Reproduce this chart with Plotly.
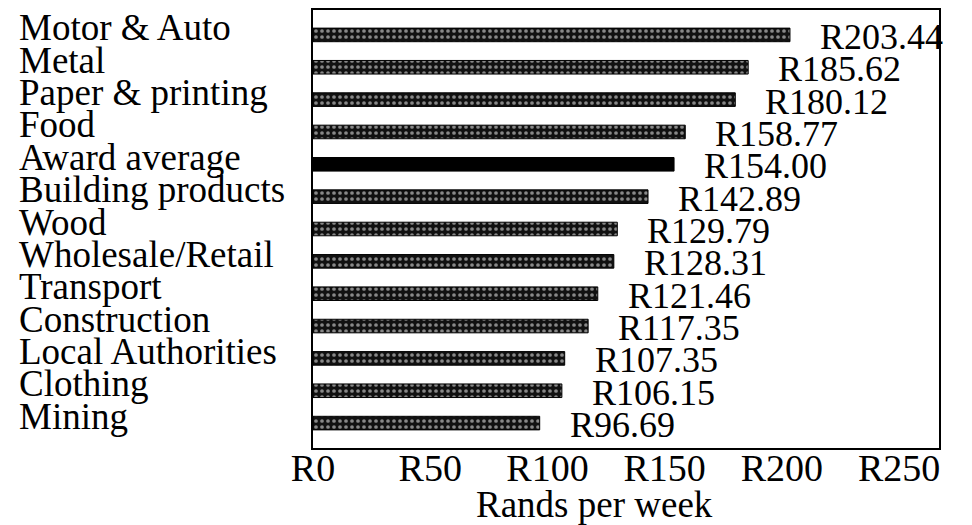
import plotly.graph_objects as go

categories = ["Motor & Auto", "Metal", "Paper & printing", "Food", "Award average",
              "Building products", "Wood", "Wholesale/Retail", "Transport",
              "Construction", "Local Authorities", "Clothing", "Mining"]
values = [203.44, 185.62, 180.12, 158.77, 154.00, 142.89, 129.79, 128.31,
          121.46, 117.35, 107.35, 106.15, 96.69]
value_labels = ["R203.44", "R185.62", "R180.12", "R158.77", "R154.00", "R142.89",
                "R129.79", "R128.31", "R121.46", "R117.35", "R107.35", "R106.15", "R96.69"]
highlight = "Award average"
tick_values = [0, 50, 100, 150, 200, 250]
tick_labels = ["R0", "R50", "R100", "R150", "R200", "R250"]
x_title = "Rands per week"

FONT = "Liberation Serif, Times New Roman, serif"

fig = go.Figure()
shapes = ["" if c == highlight else "." for c in categories]
fig.add_trace(go.Bar(
    y=categories, x=values, orientation="h", width=0.42,
    marker=dict(
        color=["black" if c == highlight else "#111111" for c in categories],
        line=dict(color="black", width=1),
        pattern=dict(shape=shapes, fgcolor="white", bgcolor="#111111",
                     size=6, solidity=0.3),
    ),
    showlegend=False, hoverinfo="skip",
))

n = len(categories)
for c, v, t in zip(categories, values, value_labels):
    fig.add_annotation(x=v, y=c, xref="x", yref="y", text=t, showarrow=False,
                       xanchor="left", yanchor="middle", xshift=28, yshift=-2,
                       font=dict(family=FONT, size=36, color="black"))
    fig.add_annotation(x=-0.4735, y=c, xref="paper", yref="y", text=c, showarrow=False,
                       xanchor="left", yanchor="middle", yshift=7,
                       font=dict(family=FONT, size=37, color="black"))

fig.add_annotation(x=0.45, y=-0.128, xref="paper", yref="paper", text=x_title,
                   showarrow=False, xanchor="center", yanchor="middle",
                   font=dict(family=FONT, size=37, color="black"))

fig.update_layout(
    width=972, height=525,
    margin=dict(l=305, r=41, t=0, b=85),
    paper_bgcolor="white", plot_bgcolor="white",
    font=dict(family=FONT, size=37, color="black"),
    xaxis=dict(range=[0, 267], tickvals=tick_values, ticktext=tick_labels,
               showgrid=False, zeroline=False, showline=True, mirror=True,
               linecolor="black", linewidth=2, ticks="", ticklabelstandoff=-15,
               tickfont=dict(family=FONT, size=38, color="black")),
    yaxis=dict(categoryorder="array", categoryarray=categories,
               range=[n - 1 + 0.77, -0.77], showticklabels=False,
               showgrid=False, zeroline=False, showline=True, mirror=True,
               linecolor="black", linewidth=2, ticks=""),
)

fig.write_html("out.html")
